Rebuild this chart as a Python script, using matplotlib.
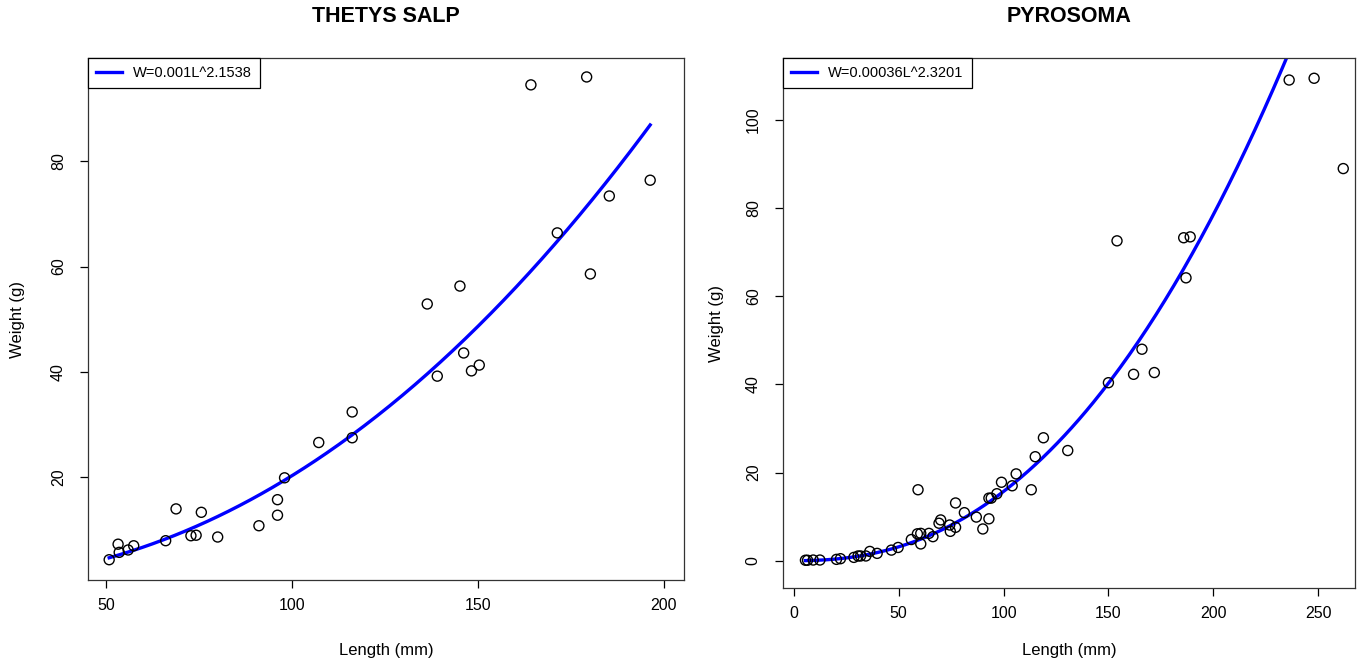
import numpy as np
import matplotlib
matplotlib.use("Agg")
import matplotlib.pyplot as plt

plt.rcParams['font.family'] = ['Liberation Sans', 'DejaVu Sans']

# Thetys salp: length (mm) and weight (g)
salp_len = [50.8, 53.2, 53.5, 55.9, 57.4, 66.0, 68.8, 72.8, 74.2, 75.6,
            80.0, 91.1, 96.1, 96.1, 98.0, 107.2, 116.2, 116.2, 136.4, 139.1,
            145.2, 146.2, 148.3, 150.4, 164.3, 171.4, 179.3, 180.3, 185.4, 196.4]
salp_wt = [4.35, 7.3, 5.75, 6.2, 7.0, 7.96, 14.0, 8.9, 9.0, 13.35,
           8.66, 10.8, 12.8, 15.75, 19.9, 26.6, 27.5, 32.4, 52.9, 39.2,
           56.3, 43.6, 40.2, 41.3, 94.5, 66.4, 96.0, 58.6, 73.4, 76.4]
salp_a, salp_b = 0.001, 2.1538

# Pyrosoma: length (mm) and weight (g)
pyro_len = [5.5, 6.5, 9.2, 12.4, 20.3, 22.2, 28.6, 30.6, 31.8, 34.3,
            36.2, 39.7, 46.5, 49.7, 56.0, 58.9, 59.2, 60.5, 60.5, 64.4,
            66.3, 69.2, 70.0, 74.3, 74.6, 77.1, 77.1, 81.3, 87.0, 90.1,
            93.0, 93.0, 94.1, 96.8, 99.0, 104.1, 106.0, 113.2, 115.1, 119.0,
            130.6, 150.0, 154.1, 162.0, 166.0, 171.9, 185.9, 187.0, 189.0, 236.2,
            248.1, 262.0]
pyro_wt = [0.1, 0.1, 0.15, 0.15, 0.3, 0.45, 0.75, 1.07, 1.07, 1.07,
           2.1, 1.66, 2.4, 3.0, 4.8, 6.1, 16.1, 6.2, 3.8, 6.2,
           5.45, 8.5, 9.25, 8.1, 6.66, 7.57, 13.1, 10.9, 9.9, 7.2,
           14.2, 9.5, 14.2, 15.2, 17.8, 17.0, 19.7, 16.1, 23.6, 27.9,
           25.0, 40.4, 72.6, 42.3, 48.0, 42.7, 73.3, 64.2, 73.5, 109.1,
           109.5, 89.0]
pyro_a, pyro_b = 0.00036, 2.3201

W, H = 1367, 662
fig = plt.figure(figsize=(W / 100, H / 100), dpi=100)


def panel(box, L, Wt, a, b, title, xlim, ylim, xticks, yticks, ylab_x):
    x0, y0, x1, y1 = box
    ax = fig.add_axes([x0 / W, 1 - y1 / H, (x1 - x0) / W, (y1 - y0) / H])
    ax.scatter(L, Wt, s=52, facecolors='none', edgecolors='black', linewidths=1, zorder=3)
    xs = np.linspace(min(L), max(L), 300)
    ax.plot(xs, a * xs ** b, color='#0000ff', lw=2.4,
            label='W=%gL^%g' % (a, b), zorder=2)
    ax.set_xlim(*xlim)
    ax.set_ylim(*ylim)
    ax.set_xticks(xticks)
    ax.set_yticks(yticks)
    ax.tick_params(direction='out', length=6, width=0.9, labelsize=11.5)
    ax.tick_params(axis='x', pad=7)
    ax.tick_params(axis='y', pad=10)
    for lab in ax.get_yticklabels():
        lab.set_rotation(90)
        lab.set_va('center')
    for s in ax.spines.values():
        s.set_linewidth(0.9)
        s.set_color('#333333')
    fig.text((x0 + x1) / 2 / W, 1 - 17 / H, title, fontsize=15.5,
             fontweight='bold', ha='center', va='center')
    ax.set_xlabel('Length (mm)', fontsize=12)
    ax.xaxis.set_label_coords(0.5, -(651 - y1) / (y1 - y0))
    ax.xaxis.label.set_va('center')
    ax.set_ylabel('Weight (g)', fontsize=12)
    ax.yaxis.set_label_coords(-(x0 - ylab_x) / (x1 - x0), 0.5)
    ax.yaxis.label.set_va('center')
    leg = ax.legend(loc='upper left', borderaxespad=0, fancybox=False,
                    framealpha=1, edgecolor='black', fontsize=10.5,
                    handlelength=1.8, borderpad=0.55, handletextpad=0.75)
    leg.get_frame().set_linewidth(0.9)
    return ax


panel((88, 58, 684, 580), salp_len, salp_wt, salp_a, salp_b,
      'THETYS SALP', (45.1, 205.5), (0.5, 99.6),
      [50, 100, 150, 200], [20, 40, 60, 80], 18)
panel((783, 58, 1355, 588), pyro_len, pyro_wt, pyro_a, pyro_b,
      'PYROSOMA', (-5.2, 267.6), (-6.2, 114.1),
      [0, 50, 100, 150, 200, 250], [0, 20, 40, 60, 80, 100], 717)

fig.savefig('out.png', dpi=100)
